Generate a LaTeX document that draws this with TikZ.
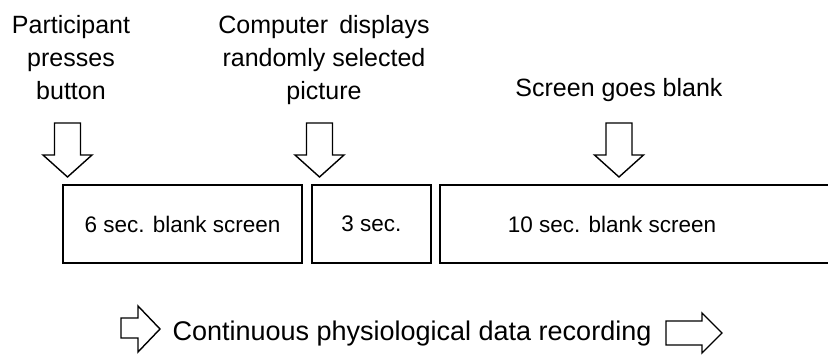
\documentclass[tikz,border=0pt]{standalone}
\usepackage{fontspec}
\setmainfont{Liberation Sans}
\usetikzlibrary{positioning}

% hollow block arrow, drawn from its tip
\newcommand{\DownArrow}[1]{%
\draw[BlockArrow] (#1) -- ++(-24.5,-22) -- ++(11.5,0) -- ++(0,-32) -- ++(26,0) -- ++(0,32) -- ++(11.5,0) -- cycle;}

\begin{document}
\begin{tikzpicture}[
x=1pt,y=-1pt,
BlockArrow/.style={draw=black,line width=1.4pt,line join=miter,fill=white},
Screen/.style={draw=black,line width=1.5pt,minimum height=78pt,inner sep=0pt,font=\fontsize{22.5}{27}\selectfont},
Caption/.style={align=center,inner sep=0pt,font=\fontsize{25}{33}\selectfont}
]
\useasboundingbox (0,0) rectangle (828,355);

% captions above the time line
\node[Caption,anchor=north] (press) at (71,15) {Participant\\presses\\button};
\node[Caption,anchor=north] (show) at (324,15) {Computer\, displays\\randomly selected\\picture};
\node[Caption,anchor=base] (blank) at (619,97) {Screen goes blank};

% the three periods
\node[Screen,minimum width=239pt] (sixsec) at (182.5,224) {6 sec. blank screen};
\node[Screen,minimum width=119pt] (threesec) at (371.5,224) {3 sec.};
\coordinate (Tnw) at (440,185);
\coordinate (Tsw) at (440,263);
\draw[line width=1.5pt] (836,185) -- (Tnw) -- (Tsw) -- (836,263);
\node[font=\fontsize{22.5}{27}\selectfont] (tensec) at (612,224) {10 sec. blank screen};

% down arrows onto the time line
\coordinate (A) at (67.5,177);
\coordinate (B) at (319.5,177);
\coordinate (C) at (619,177);
\DownArrow{A}
\DownArrow{B}
\DownArrow{C}

% recording
\node[inner sep=0pt,anchor=base,font=\fontsize{27}{32}\selectfont] (rec) at (412,341) {Continuous physiological data recording};
\coordinate (L) at (160,329);
\coordinate (R) at (722,333);
\draw[BlockArrow] (L) -- ++(-22,-23) -- ++(0,12) -- ++(-17,0) -- ++(0,20) -- ++(17,0) -- ++(0,14) -- cycle;
\draw[BlockArrow] (R) -- ++(-20,-20) -- ++(0,8) -- ++(-36,0) -- ++(0,24) -- ++(36,0) -- ++(0,8) -- cycle;

\end{tikzpicture}
\end{document}
